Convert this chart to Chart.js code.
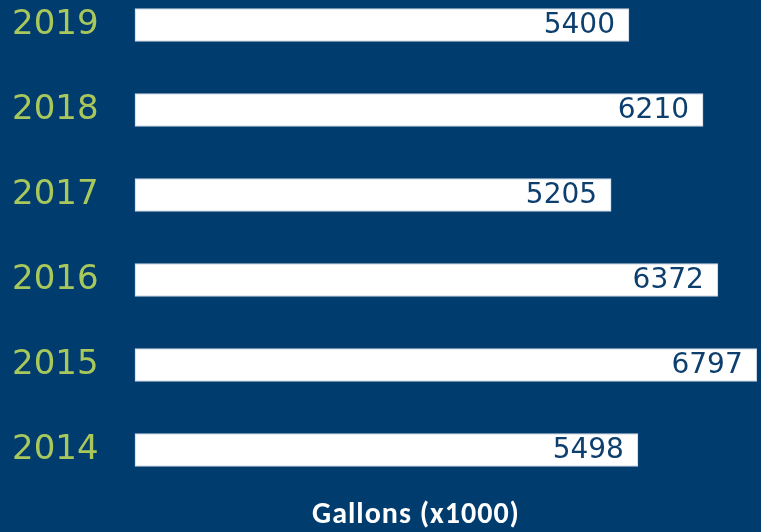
<!DOCTYPE html>
<html>
<head>
<meta charset="utf-8">
<script src="https://cdn.jsdelivr.net/npm/chart.js@4"></script>
<style>
  html, body { margin: 0; padding: 0; background: #013c6f; }
  #wrap { width: 761px; height: 532px; position: relative; }
</style>
</head>
<body>
<div id="wrap"><canvas id="chart"></canvas></div>
<script>
// data
const years = ['2019', '2018', '2017', '2016', '2015', '2014'];
const gallons = [5400, 6210, 5205, 6372, 6797, 5498];
const axisTitle = 'Gallons (x1000)';

const BG = '#013c6f';
const LABEL_GREEN = '#a8c85c';
const VALUE_BLUE = '#0d3f6e';

// value labels at bar ends + axis title under the bars
const labelPlugin = {
  id: 'barLabels',
  afterDatasetsDraw(chart) {
    const ctx = chart.ctx;
    const meta = chart.getDatasetMeta(0);
    ctx.save();
    ctx.font = '28px "DejaVu Sans"';
    ctx.fillStyle = VALUE_BLUE;
    ctx.textAlign = 'right';
    ctx.textBaseline = 'middle';
    meta.data.forEach((bar, i) => {
      ctx.fillText(String(gallons[i]), bar.x - 14, bar.y + 1);
    });
    // x axis title
    const area = chart.chartArea;
    ctx.font = 'bold 30px Carlito, "Open Sans"';
    ctx.letterSpacing = '1px';
    ctx.fillStyle = '#ffffff';
    ctx.textAlign = 'center';
    ctx.textBaseline = 'middle';
    ctx.fillText(axisTitle, area.left + 281, area.bottom + 65);
    ctx.restore();
  }
};

new Chart(document.getElementById('chart'), {
  type: 'bar',
  data: {
    labels: years,
    datasets: [{
      data: gallons,
      backgroundColor: '#ffffff',
      borderColor: '#c8d3e0',
      borderWidth: 1,
      borderSkipped: false,
      barThickness: 33,
      clip: false
    }]
  },
  options: {
    indexAxis: 'y',
    responsive: true,
    maintainAspectRatio: false,
    animation: false,
    layout: { padding: { left: 12, right: 4, top: 25, bottom: 82 } },
    plugins: {
      legend: { display: false },
      tooltip: { enabled: false }
    },
    scales: {
      x: { display: false, min: 0, max: 6800 },
      y: {
        offset: false,
        grid: { display: false },
        border: { display: false },
        ticks: {
          color: LABEL_GREEN,
          font: { family: 'DejaVu Sans', size: 34, lineHeight: 1.0 },
          crossAlign: 'far',
          padding: 37
        },
        afterFit(scale) {
          scale.width = 123;
          scale.paddingTop = 0;
          scale.paddingBottom = 0;
        }
      }
    }
  },
  plugins: [labelPlugin]
});
</script>
</body>
</html>
